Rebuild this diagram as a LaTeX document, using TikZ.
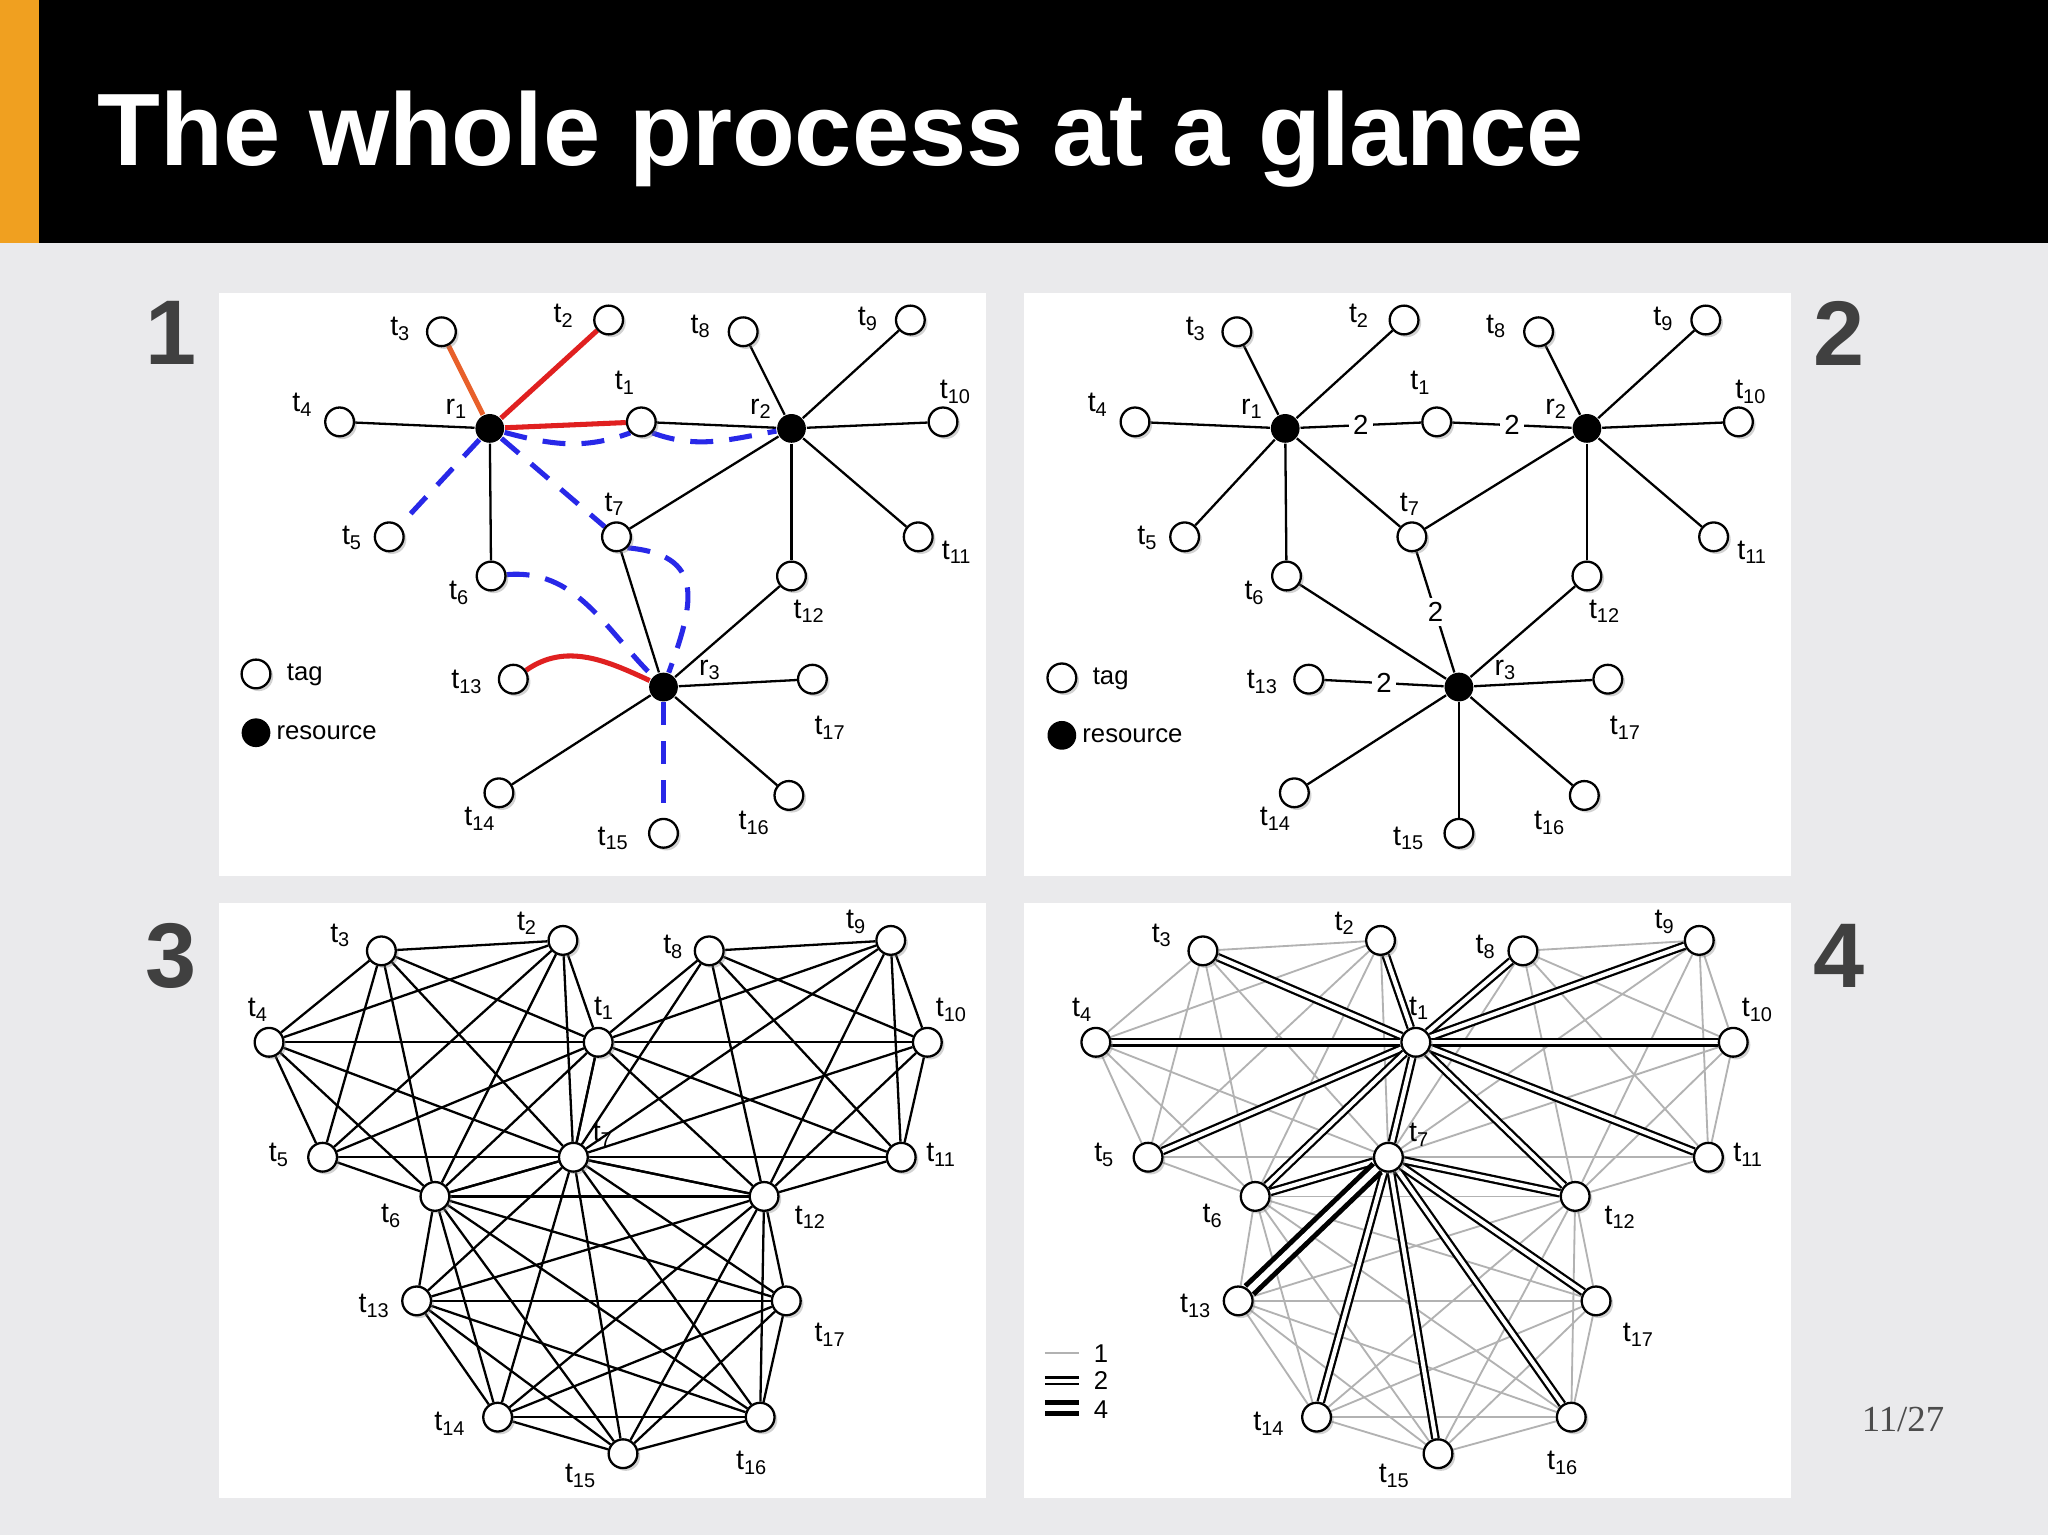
\documentclass[tikz,border=0pt]{standalone}
\usepackage{fontspec}
\setmainfont{Liberation Sans}
\newfontfamily\serifpg{Liberation Serif}
\usetikzlibrary{shadows}
\pgfdeclarelayer{bg}\pgfdeclarelayer{edges}\pgfsetlayers{bg,edges,main}
\definecolor{slide}{HTML}{EAEAEC}
\definecolor{orng}{HTML}{F0A020}
\definecolor{bl}{HTML}{2828E8}
\definecolor{rd}{HTML}{E02020}
\definecolor{or2}{HTML}{E8602A}
\tikzset{
 tag/.style={circle,draw=black,line width=0.5pt,fill=white,minimum size=0.22cm,inner sep=0pt,drop shadow={opacity=0.35,shadow xshift=0.6pt,shadow yshift=-0.6pt}},
 res/.style={circle,fill=black,minimum size=0.22cm,inner sep=0pt},
 lab/.style={font=\fontsize{6.2}{7}\selectfont,inner sep=0pt},
 leg/.style={font=\fontsize{5.6}{7}\selectfont,inner sep=0pt},
 ed/.style={line width=0.5pt},
 red/.style={line width=1.1pt,draw=rd},
 bdash/.style={line width=1.1pt,draw=bl,dash pattern=on 5pt off 3.5pt},
 wl/.style={fill=white,inner sep=1pt,font=\fontsize{6}{7}\selectfont},
 gr/.style={line width=0.4pt,draw=black!30},
 dbl/.style={line width=0.5pt,double=white,double distance=0.9pt},
 dbl4/.style={line width=1.1pt,double=white,double distance=1.4pt},
 bignum/.style={font=\fontsize{20}{22}\selectfont\bfseries,text=black!75},
}
\begin{document}
\begin{tikzpicture}[x=0.01cm,y=-0.01cm]
\useasboundingbox (0,0) rectangle (1568,1175);
\begin{pgfonlayer}{bg}
\fill[slide] (0,0) rectangle (1568,1175);
\fill[black] (0,0) rectangle (1568,186);
\fill[orng] (0,0) rectangle (30,186);
\foreach \a/\b/\c/\d in {168/224/755/671,784/224/1371/671,168/691/755/1147,784/691/1371/1147}
  \fill[white] (\a,\b) rectangle (\c,\d);
\end{pgfonlayer}
\node[anchor=base west,text=white,font=\fontsize{22.4}{24}\selectfont\bfseries,inner sep=0pt] (title) at (74,127) {The whole process at a glance};
\node[bignum] (n1) at (131,255) {1};
\node[bignum] (n2) at (1408,255) {2};
\node[bignum] (n3) at (131,732) {3};
\node[bignum] (n4) at (1408,732) {4};
\node[font=\serifpg\fontsize{8}{9}\selectfont,text=black!70] (pg) at (1457,1087) {11/27};
% panels 1 and 2 nodes
\foreach \p/\dx in {a/0,b/609}{
 \begin{scope}[xshift=\dx*0.01cm]
 \foreach \n/\x/\y/\lx/\ly in {1/491/323/479/293,2/466/245/432/242,3/338/254/307/252,4/260/323/232/310,5/298/411/270/412,6/376/441/352/454,7/472/411/471/386,8/569/254/537/250,9/697/245/665/244,10/722/323/732/300,11/703/411/733/423,12/606/441/620/468,13/393/520/358/522,14/382/607/368/627,15/508/638/470/642,16/604/609/578/630,17/622/520/636/557}{
  \node[tag] (\p t\n) at (\x,\y) {};
  \node[lab] (\p l\n) at (\lx,\ly) {t\textsubscript{\n}};
 }
 \foreach \n/\x/\y/\lx/\ly in {1/375/328/350/313,2/606/328/583/313,3/508/526/544/513}{
  \node[res] (\p r\n) at (\x,\y) {};
  \node[lab] (\p rl\n) at (\lx,\ly) {r\textsubscript{\n}};
 }
 \end{scope}
}
% legends
\node[tag] (lgt1) at (196,516) {}; \node[leg,anchor=west] (lgtt1) at (219,517) {tag};
\node[res] (lgr1) at (196,561) {}; \node[leg,anchor=west] (lgrt1) at (211,561) {resource};
\node[tag] (lgt2) at (813,519) {}; \node[leg,anchor=west] (lgtt2) at (836,520) {tag};
\node[res] (lgr2) at (813,563) {}; \node[leg,anchor=west] (lgrt2) at (828,563) {resource};
% panel 1 edges
\begin{pgfonlayer}{edges}
\foreach \t in {4,6} \draw[ed] (ar1) -- (at\t);
\foreach \t in {1,7,8,9,10,11,12} \draw[ed] (ar2) -- (at\t);
\foreach \t in {7,12,14,16,17} \draw[ed] (ar3) -- (at\t);
\draw[red] (ar1) -- (at1);
\draw[red] (ar1) -- (at2);
\draw[line width=1.1pt,draw=or2] (ar1) -- (at3);
\draw[red] (at13) to[out=35,in=155] (ar3);
\draw[bdash] (ar1) -- (at5);
\draw[bdash] (ar1) to[out=-15,in=200] (at1.south west);
\draw[bdash] (at1.south east) to[out=-20,in=190] (ar2);
\draw[bdash] (ar1) -- (at7);
\draw[bdash] (at7.south east) .. controls (540,425) and (532,460) .. (ar3);
\draw[bdash] (at6) to[out=5,in=135] (ar3);
\draw[bdash] (ar3) -- (at15);
% panel 2 edges
\foreach \t in {2,3,4,5,6,7} \draw[ed] (br1) -- (bt\t);
\foreach \t in {7,8,9,10,11,12} \draw[ed] (br2) -- (bt\t);
\foreach \t in {6,12,14,15,16,17} \draw[ed] (br3) -- (bt\t);
\draw[ed] (br1) -- node[wl]{2} (bt1);
\draw[ed] (bt1) -- node[wl]{2} (br2);
\draw[ed] (bt7) -- node[wl]{2} (br3);
\draw[ed] (bt13) -- node[wl]{2} (br3);
\end{pgfonlayer}
% panel 3
\foreach \n/\x/\y/\lx/\ly in {1/458/798/463/772,2/431/720/404/707,3/292/728/261/716,4/206/798/198/773,5/247/886/214/884,6/333/916/300/931,7/439/886/462/869,8/543/728/516/725,9/682/720/656/706,10/710/798/729/773,11/690/886/721/884,12/585/916/621/932,13/319/996/287/1000,14/381/1085/345/1090,15/477/1113/445/1130,16/582/1085/576/1120,17/602/996/636/1022}{
 \node[tag] (c\n) at (\x,\y) {};
 \node[lab] (cl\n) at (\lx,\ly) {t\textsubscript{\n}};
}
% panel 4
\foreach \n/\x/\y/\lx/\ly in {1/1084/798/1087/772,2/1057/720/1030/707,3/921/728/890/716,4/839/798/829/773,5/879/886/846/884,6/961/916/929/931,7/1063/886/1087/869,8/1166/728/1138/725,9/1301/720/1275/706,10/1327/798/1346/773,11/1308/886/1339/884,12/1206/916/1241/932,13/948/996/916/1000,14/1008/1085/972/1090,15/1101/1113/1068/1130,16/1203/1085/1197/1120,17/1222/996/1255/1022}{
 \node[tag] (d\n) at (\x,\y) {};
 \node[lab] (dl\n) at (\lx,\ly) {t\textsubscript{\n}};
}
\begin{pgfonlayer}{edges}
\foreach \s in {{1,2,3,4,5,6,7},{1,7,8,9,10,11,12},{6,7,12,13,14,15,16,17}}{
 \foreach \a in \s {\foreach \b in \s {\ifnum\a<\b
   \draw[ed] (c\a) -- (c\b);
   \draw[gr] (d\a) -- (d\b);
 \fi}}
}
\foreach \t in {2,3,4,5,6,7,8,9,10,11,12} \draw[dbl] (d1) -- (d\t);
\foreach \t in {6,12,14,15,16,17} \draw[dbl] (d7) -- (d\t);
\draw[dbl4] (d7) -- (d13);
\end{pgfonlayer}
% panel 4 legend
\coordinate (la1) at (800,1036); \coordinate (lb1) at (826,1036);
\coordinate (la2) at (800,1057); \coordinate (lb2) at (826,1057);
\coordinate (la3) at (800,1078); \coordinate (lb3) at (826,1078);
\draw[gr] (la1) -- (lb1);
\draw[dbl] (la2) -- (lb2);
\draw[dbl4] (la3) -- (lb3);
\node[leg] (lw1) at (843,1036) {1};
\node[leg] (lw2) at (843,1057) {2};
\node[leg] (lw3) at (843,1079) {4};
\end{tikzpicture}
\end{document}
